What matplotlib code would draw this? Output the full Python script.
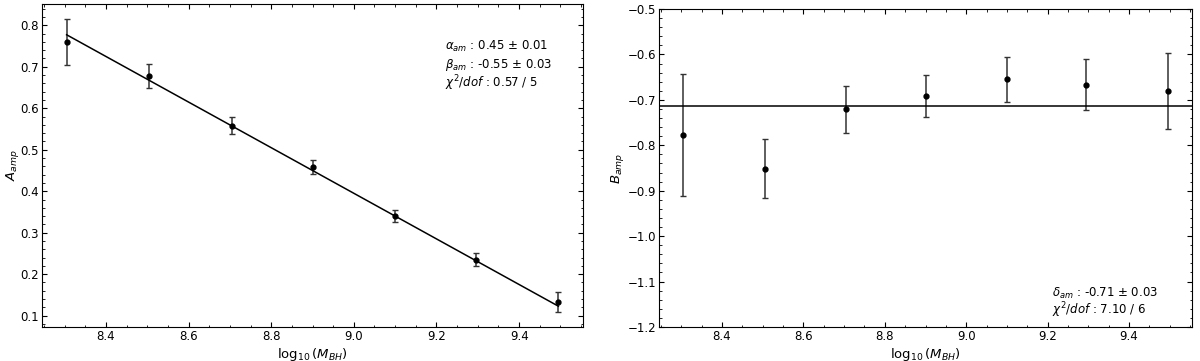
import numpy as np
import matplotlib
matplotlib.use('Agg')
from matplotlib import pyplot as plt
from matplotlib.ticker import MultipleLocator

# black hole mass bins
logm = [8.305, 8.505, 8.705, 8.9, 9.1, 9.295, 9.495]

# A_amp values and errors
a_amp = [0.760, 0.678, 0.558, 0.458, 0.340, 0.235, 0.133]
a_err = [0.056, 0.028, 0.021, 0.017, 0.014, 0.016, 0.025]

# B_amp values with asymmetric errors (lower, upper)
b_amp = [-0.778, -0.852, -0.721, -0.692, -0.655, -0.667, -0.681]
b_lo = [0.134, 0.065, 0.052, 0.046, 0.050, 0.055, 0.084]
b_hi = [0.135, 0.065, 0.051, 0.047, 0.049, 0.056, 0.084]

alpha_am = 0.45
beta_am = -0.55
delta_am = -0.713

fig = plt.figure(figsize=(12, 3.61), dpi=100)
ax1 = fig.add_axes([42/1200, 1-327/361, 541/1200, 323/361])
ax2 = fig.add_axes([659/1200, 1-327/361, 533/1200, 318/361])

# left panel
ax1.errorbar(logm, a_amp, yerr=a_err, fmt='o', color='black', ms=3.5,
             ecolor='#333333', elinewidth=1.1, capsize=2.5)
xs = np.array([logm[0], logm[-1]])
ax1.plot(xs, alpha_am + beta_am*(xs - 8.9), color='black', lw=1.1)
ax1.set_xlabel(r'$\log_{10}(M_{BH})$', fontsize=9.5, labelpad=2.5)
ax1.set_ylabel(r'$A_{amp}$', fontsize=9.5)
ax1.yaxis.set_label_coords(-0.038, 0.5)
ax1.text(0.745, 0.87, r'$\alpha_{am}$ : 0.45 $\pm$ 0.01', transform=ax1.transAxes, fontsize=8.5, va='center')
ax1.text(0.745, 0.81, r'$\beta_{am}$ : -0.55 $\pm$ 0.03', transform=ax1.transAxes, fontsize=8.5, va='center')
ax1.text(0.745, 0.755, r'$\chi^2/dof$ : 0.57 / 5', transform=ax1.transAxes, fontsize=8.5, va='center')
ax1.xaxis.set_major_locator(MultipleLocator(0.2))
ax1.xaxis.set_minor_locator(MultipleLocator(0.05))
ax1.yaxis.set_major_locator(MultipleLocator(0.1))
ax1.yaxis.set_minor_locator(MultipleLocator(0.02))

# right panel
ax2.errorbar(logm, b_amp, yerr=[b_lo, b_hi], fmt='o', color='black', ms=3.5,
             ecolor='#333333', elinewidth=1.1, capsize=2.5)
ax2.axhline(delta_am, color='black', lw=1.1)
ax2.set_ylim(-1.2, -0.5)
ax2.set_xlabel(r'$\log_{10}(M_{BH})$', fontsize=9.5, labelpad=2.5)
ax2.set_ylabel(r'$B_{amp}$', fontsize=9.5)
ax2.yaxis.set_label_coords(-0.061, 0.5)
ax2.text(0.738, 0.105, r'$\delta_{am}$ : -0.71 $\pm$ 0.03', transform=ax2.transAxes, fontsize=8.5, va='center')
ax2.text(0.738, 0.053, r'$\chi^2/dof$ : 7.10 / 6', transform=ax2.transAxes, fontsize=8.5, va='center')
ax2.xaxis.set_major_locator(MultipleLocator(0.2))
ax2.xaxis.set_minor_locator(MultipleLocator(0.05))
ax2.yaxis.set_major_locator(MultipleLocator(0.1))
ax2.yaxis.set_minor_locator(MultipleLocator(0.02))

for ax in (ax1, ax2):
    ax.tick_params(which='both', direction='in', top=True, right=True, labelsize=8.5)
    ax.tick_params(which='major', length=3.5, pad=2)
    ax.tick_params(which='minor', length=1.8)

fig.savefig('out.png', dpi=100)
